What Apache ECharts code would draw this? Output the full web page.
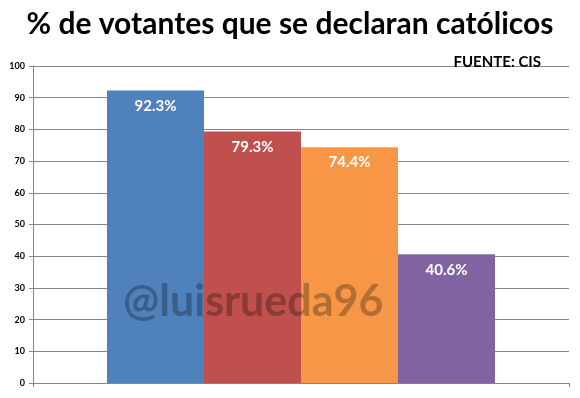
<!DOCTYPE html>
<html>
<head>
<meta charset="utf-8">
<script src="https://cdn.jsdelivr.net/npm/echarts@6/dist/echarts.min.js"></script>
<style>
  html, body { margin: 0; padding: 0; background: #fff; }
  #chart { width: 580px; height: 398px; }
</style>
</head>
<body>
<div id="chart"></div>
<script>
  // datos
  var categories = ['católicos'];
  var seriesNames = ['A', 'B', 'C', 'D'];
  var values = [92.3, 79.3, 74.4, 40.6];
  var colors = ['#4F81BD', '#C0504D', '#F79646', '#8064A2'];

  var chart = echarts.init(document.getElementById('chart'));

  var series = values.map(function (v, i) {
    return {
      name: seriesNames[i],
      type: 'bar',
      data: [v],
      barWidth: 97,
      barGap: '0%',
      itemStyle: { color: colors[i] },
      label: {
        show: true,
        position: 'insideTop',
        distance: 8,
        formatter: function (p) { return p.value.toFixed(1) + '%'; },
        color: '#fff',
        fontFamily: 'Lato',
        fontWeight: 'bold',
        fontSize: 15
      }
    };
  });

  chart.setOption({
    animation: false,
    title: [{
      text: '% de votantes que se declaran católicos',
      left: 'center',
      top: 4,
      textStyle: { fontFamily: 'Lato', fontWeight: 'bold', fontSize: 30, color: '#000' }
    }, {
      text: 'FUENTE: CIS',
      right: 34,
      top: 50,
      textStyle: { fontFamily: 'Lato', fontWeight: 'bold', fontSize: 15, color: '#000' }
    }],
    grid: { left: 33, right: 11, top: 66, bottom: 15 },
    xAxis: {
      type: 'category',
      data: categories,
      axisLine: { lineStyle: { color: '#868686' } },
      axisTick: { show: true, length: 4, lineStyle: { color: '#868686' } },
      axisLabel: { show: false }
    },
    yAxis: {
      type: 'value',
      min: 0,
      max: 100,
      interval: 10,
      axisLine: { show: true, lineStyle: { color: '#868686' } },
      axisTick: { show: true, length: 4, lineStyle: { color: '#868686' } },
      axisLabel: { fontFamily: 'Lato', fontWeight: 'bold', fontSize: 9, color: '#000', margin: 8 },
      splitLine: { lineStyle: { color: '#868686' } }
    },
    series: series,
    graphic: [{
      type: 'text',
      left: 123,
      top: 281,
      z: 100,
      style: {
        text: '@luisrueda96',
        font: 'bold 43px Lato',
        fill: 'rgba(0,0,0,0.27)'
      }
    }]
  });
</script>
</body>
</html>
